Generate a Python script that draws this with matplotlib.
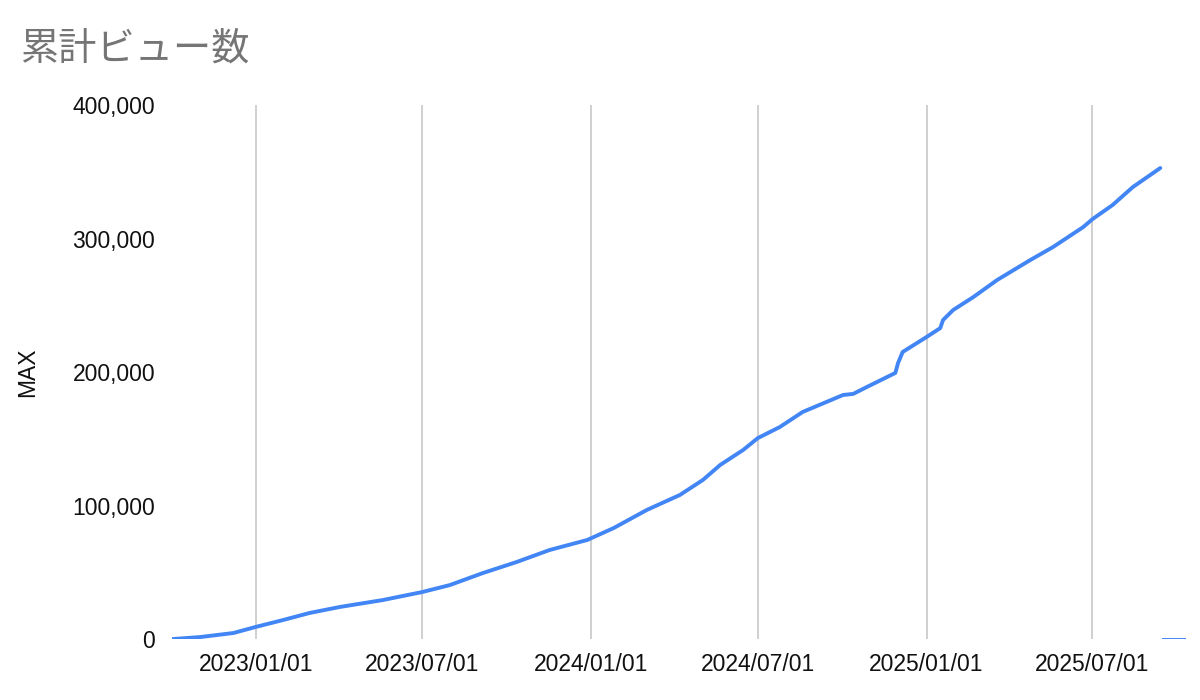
import matplotlib
matplotlib.use("Agg")
import matplotlib.pyplot as plt
import matplotlib.dates as mdates
from matplotlib.ticker import FuncFormatter
import pandas as pd

title = "累計ビュー数"
y_label = "MAX"

dates = ["2022-10-02", "2022-11-01", "2022-12-07", "2022-12-31", "2023-01-30",
         "2023-02-28", "2023-04-02", "2023-05-19", "2023-07-01", "2023-07-31",
         "2023-09-05", "2023-10-12", "2023-11-17", "2023-12-28", "2024-01-26",
         "2024-03-02", "2024-04-07", "2024-05-02", "2024-05-21", "2024-06-15",
         "2024-07-01", "2024-07-25", "2024-08-19", "2024-10-02", "2024-10-13",
         "2024-10-28", "2024-11-28", "2024-12-01", "2024-12-06", "2025-01-01",
         "2025-01-16", "2025-01-19", "2025-01-30", "2025-02-21", "2025-03-19",
         "2025-04-24", "2025-05-19", "2025-06-21", "2025-07-01", "2025-07-23",
         "2025-08-14", "2025-09-13"]
views = [0, 1500, 4500, 9000, 14200,
         19500, 24000, 29200, 35200, 40400,
         49400, 57700, 66700, 74200, 83200,
         96700, 107900, 119100, 130400, 141600,
         150500, 158800, 170100, 182800, 183600,
         188800, 199300, 206800, 215000, 226200,
         232900, 238900, 246400, 256100, 268900,
         283800, 293600, 308600, 314500, 325100,
         338500, 352800]

tail_dates = ["2025-09-16", "2025-10-11"]
tail_values = [0, 0]

tick_dates = ["2023-01-01", "2023-07-01", "2024-01-01", "2024-07-01", "2025-01-01", "2025-07-01"]
y_ticks = [0, 100000, 200000, 300000, 400000]

x = pd.to_datetime(dates)
xt = pd.to_datetime(tail_dates)
ticks = pd.to_datetime(tick_dates)

fig = plt.figure(figsize=(12, 7), dpi=100)
ax = fig.add_axes([0.1433, 0.0871, 0.8450, 0.7629])

ax.plot(x, views, color="#4285F4", lw=2.8, solid_capstyle="round", solid_joinstyle="round")
ax.plot(xt, tail_values, color="#4285F4", lw=1.4)

ax.set_xlim(pd.Timestamp("2022-10-01"), pd.Timestamp("2025-10-11"))
ax.set_ylim(0, 400000)
ax.set_xticks(ticks)
ax.xaxis.set_major_formatter(mdates.DateFormatter("%Y/%m/%d"))
ax.set_yticks(y_ticks)
ax.yaxis.set_major_formatter(FuncFormatter(lambda v, p: f"{int(v):,}"))

ax.grid(axis="x", color="#cccccc", lw=1.3)
ax.set_axisbelow(True)
for s in ax.spines.values():
    s.set_visible(False)
ax.tick_params(axis="both", length=0, labelsize=16.5, labelcolor="#111111")
ax.tick_params(axis="y", pad=12)
ax.tick_params(axis="x", pad=10)
for lab in ax.get_xticklabels() + ax.get_yticklabels():
    lab.set_family(["Liberation Sans", "DejaVu Sans"])

ax.set_ylabel(y_label, fontsize=16.5, family=["Liberation Sans", "DejaVu Sans"], color="#111111", labelpad=24)

fig.text(0.0167, 0.930, title, fontsize=27.5, color="#757575",
         family=["Noto Sans CJK JP", "DejaVu Sans"], va="center", ha="left")

fig.savefig("out.png", dpi=100, facecolor="white")
